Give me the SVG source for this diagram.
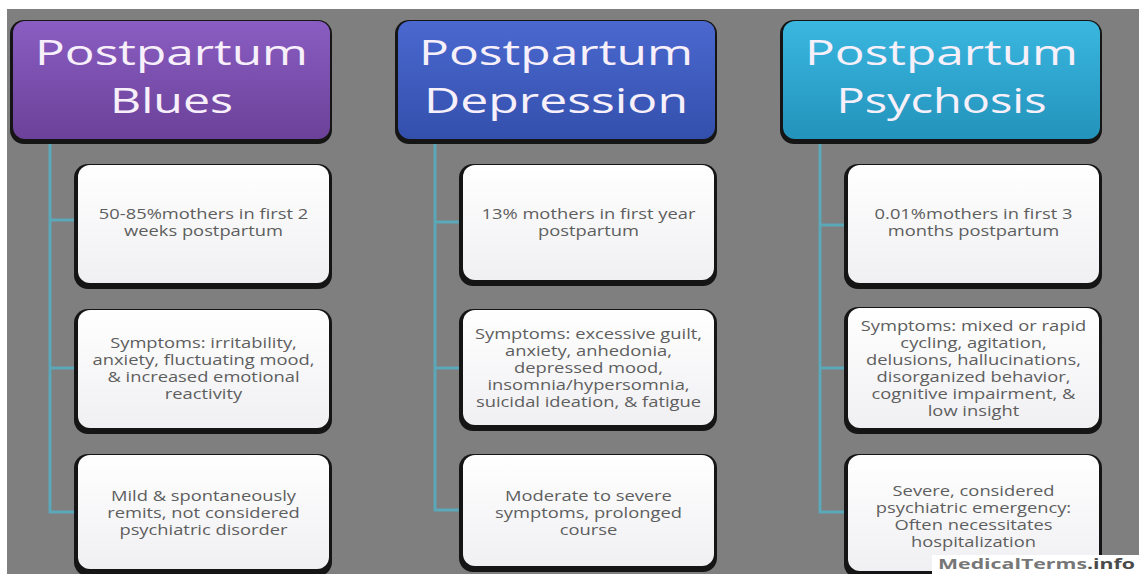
<svg xmlns="http://www.w3.org/2000/svg" width="1139" height="574" viewBox="0 0 1139 574">
<defs>
<linearGradient id="gPurple" x1="0" y1="0" x2="0" y2="1"><stop offset="0" stop-color="#8a5dc2"/><stop offset="1" stop-color="#6b4199"/></linearGradient>
<linearGradient id="gBlue" x1="0" y1="0" x2="0" y2="1"><stop offset="0" stop-color="#4a68cf"/><stop offset="1" stop-color="#3450ad"/></linearGradient>
<linearGradient id="gCyan" x1="0" y1="0" x2="0" y2="1"><stop offset="0" stop-color="#3ab7e0"/><stop offset="1" stop-color="#2393bb"/></linearGradient>
<linearGradient id="gWhite" x1="0" y1="0" x2="0" y2="1"><stop offset="0" stop-color="#ffffff"/><stop offset="1" stop-color="#f0f0f3"/></linearGradient>
<style>
.shadow{fill:#151515}
.card{fill:url(#gWhite)}
.hd{font-family:"Open Sans","DejaVu Sans",sans-serif;font-size:35px;fill:#f7f0fa;text-anchor:middle}
.bt{font-family:"Open Sans","DejaVu Sans",sans-serif;font-size:14px;fill:#5e5e5e;text-anchor:middle}
.conn{stroke:#5aa8b8;stroke-width:3;fill:none}
</style>
</defs>
<rect x="0" y="0" width="1139" height="574" fill="#ffffff"/>
<rect x="7" y="9" width="1132" height="565" fill="#7f7f7f"/>

<g id="connectors">
<path class="conn" d="M50,140 V512 H77 M50,220 H77 M50,368 H77"/>
<path class="conn" d="M435,140 V510 H462 M435,222 H462 M435,368 H462"/>
<path class="conn" d="M820,140 V512 H847 M820,225 H847 M820,368 H847"/>
</g>

<g id="header-blues">
<rect class="shadow" x="10" y="20" width="322" height="124" rx="14"/>
<rect x="13" y="21" width="317" height="118" rx="12" fill="url(#gPurple)"/>
<text class="hd" x="171.5" y="65" textLength="273" lengthAdjust="spacingAndGlyphs">Postpartum</text>
<text class="hd" x="171.5" y="113" textLength="123" lengthAdjust="spacingAndGlyphs">Blues</text>
</g>
<g id="header-depression">
<rect class="shadow" x="395" y="20" width="322" height="124" rx="14"/>
<rect x="398" y="21" width="317" height="118" rx="12" fill="url(#gBlue)"/>
<text class="hd" x="556" y="65" textLength="274" lengthAdjust="spacingAndGlyphs">Postpartum</text>
<text class="hd" x="556" y="113" textLength="264" lengthAdjust="spacingAndGlyphs">Depression</text>
</g>
<g id="header-psychosis">
<rect class="shadow" x="780" y="20" width="322" height="124" rx="14"/>
<rect x="783" y="21" width="317" height="118" rx="12" fill="url(#gCyan)"/>
<text class="hd" x="941.5" y="65" textLength="273" lengthAdjust="spacingAndGlyphs">Postpartum</text>
<text class="hd" x="941.5" y="113" textLength="210" lengthAdjust="spacingAndGlyphs">Psychosis</text>
</g>

<!-- Column 1 -->
<g id="blues-prevalence">
<rect class="shadow" x="74" y="164" width="258" height="125" rx="14"/>
<rect class="card" x="78" y="165" width="251" height="118" rx="12"/>
<g transform="translate(203.5,0) scale(1.31,1)"><text class="bt" x="0" y="219">50-85%mothers in first 2</text><text class="bt" x="0" y="236">weeks postpartum</text></g>
</g>
<g id="blues-symptoms">
<rect class="shadow" x="74" y="309" width="258" height="125" rx="14"/>
<rect class="card" x="78" y="310" width="251" height="118" rx="12"/>
<g transform="translate(203.5,0) scale(1.31,1)"><text class="bt" x="0" y="348">Symptoms: irritability,</text><text class="bt" x="0" y="365">anxiety, fluctuating mood,</text><text class="bt" x="0" y="382">&amp; increased emotional</text><text class="bt" x="0" y="399">reactivity</text></g>
</g>
<g id="blues-course">
<rect class="shadow" x="74" y="454" width="258" height="122" rx="14"/>
<rect class="card" x="78" y="455" width="251" height="114" rx="12"/>
<g transform="translate(203.5,0) scale(1.31,1)"><text class="bt" x="0" y="501">Mild &amp; spontaneously</text><text class="bt" x="0" y="518">remits, not considered</text><text class="bt" x="0" y="535">psychiatric disorder</text></g>
</g>

<!-- Column 2 -->
<g id="depression-prevalence">
<rect class="shadow" x="459" y="164" width="258" height="122" rx="14"/>
<rect class="card" x="463" y="165" width="251" height="115" rx="12"/>
<g transform="translate(588.5,0) scale(1.31,1)"><text class="bt" x="0" y="219">13% mothers in first year</text><text class="bt" x="0" y="236">postpartum</text></g>
</g>
<g id="depression-symptoms">
<rect class="shadow" x="459" y="309" width="258" height="122" rx="14"/>
<rect class="card" x="463" y="310" width="251" height="115" rx="12"/>
<g transform="translate(588.5,0) scale(1.31,1)"><text class="bt" x="0" y="339">Symptoms: excessive guilt,</text><text class="bt" x="0" y="356">anxiety, anhedonia,</text><text class="bt" x="0" y="373">depressed mood,</text><text class="bt" x="0" y="390">insomnia/hypersomnia,</text><text class="bt" x="0" y="407">suicidal ideation, &amp; fatigue</text></g>
</g>
<g id="depression-course">
<rect class="shadow" x="459" y="454" width="258" height="118" rx="14"/>
<rect class="card" x="463" y="455" width="251" height="111" rx="12"/>
<g transform="translate(588.5,0) scale(1.31,1)"><text class="bt" x="0" y="501">Moderate to severe</text><text class="bt" x="0" y="518">symptoms, prolonged</text><text class="bt" x="0" y="535">course</text></g>
</g>

<!-- Column 3 -->
<g id="psychosis-prevalence">
<rect class="shadow" x="844" y="164" width="258" height="125" rx="14"/>
<rect class="card" x="848" y="165" width="251" height="118" rx="12"/>
<g transform="translate(973.5,0) scale(1.31,1)"><text class="bt" x="0" y="219">0.01%mothers in first 3</text><text class="bt" x="0" y="236">months postpartum</text></g>
</g>
<g id="psychosis-symptoms">
<rect class="shadow" x="844" y="307" width="258" height="127" rx="14"/>
<rect class="card" x="848" y="308" width="251" height="120" rx="12"/>
<g transform="translate(973.5,0) scale(1.31,1)"><text class="bt" x="0" y="331">Symptoms: mixed or rapid</text><text class="bt" x="0" y="348">cycling, agitation,</text><text class="bt" x="0" y="365">delusions, hallucinations,</text><text class="bt" x="0" y="382">disorganized behavior,</text><text class="bt" x="0" y="399">cognitive impairment, &amp;</text><text class="bt" x="0" y="416">low insight</text></g>
</g>
<g id="psychosis-course">
<rect class="shadow" x="844" y="454" width="258" height="124" rx="14"/>
<rect class="card" x="848" y="455" width="251" height="116" rx="12"/>
<g transform="translate(973.5,0) scale(1.31,1)"><text class="bt" x="0" y="496">Severe, considered</text><text class="bt" x="0" y="513">psychiatric emergency:</text><text class="bt" x="0" y="530">Often necessitates</text><text class="bt" x="0" y="547">hospitalization</text></g>
</g>

<g id="watermark">
<rect x="932" y="555" width="207" height="19" fill="#ffffff"/>
<text x="938" y="569" font-family="'Open Sans','DejaVu Sans',sans-serif" font-size="14" font-weight="bold" fill="#777777" textLength="197" lengthAdjust="spacingAndGlyphs">MedicalTerms<tspan fill="#4a4a4a">.info</tspan></text>
</g>
</svg>
